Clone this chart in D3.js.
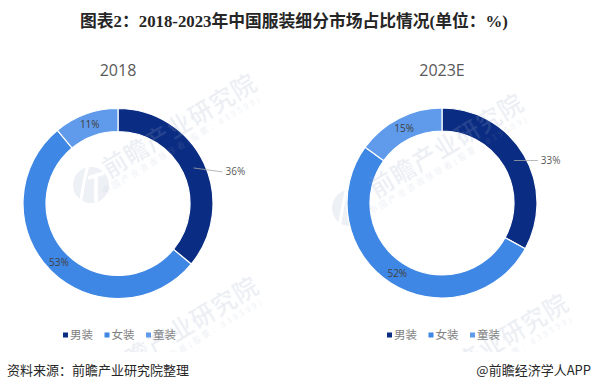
<!DOCTYPE html>
<html lang="en">
<head>
    <meta charset="UTF-8">
    <title>图表2</title>
    <script src="https://d3js.org/d3.v7.min.js"></script>
    <style>
        html, body { margin: 0; padding: 0; background: #fff; }
        svg { display: block; }
    </style>
</head>
<body>
<svg id="canvas" width="591" height="391" viewBox="0 0 591 391" font-family="'Noto Sans CJK SC', 'Noto Sans', sans-serif"></svg>
<script>
    // values
    const categories = ["男装", "女装", "童装"];
    const years = ["2018", "2023E"];
    const values2018 = [36, 53, 11];
    const values2023 = [33, 52, 15];
    const colors = ["#0a2c82", "#3f87e4", "#5f9bea"];

    const svg = d3.select("#canvas");
    const W = 591, H = 391;
    const colon = "\uFF1A";

    // title
    svg.append("text").attr("x", 80).attr("y", 27)
        .attr("font-family", "'Liberation Serif', 'Noto Sans CJK SC', serif")
        .attr("font-size", 16.8).attr("font-weight", 700).attr("fill", "#262626")
        .text("图表2" + colon + "2018-2023年中国服装细分市场占比情况(单位" + colon + "%)");

    // logo sits under the rings, the rest of the watermark goes over them
    const logoLayer = svg.append("g");
    const pie = d3.pie().sort(null).value(d => d);
    const arc = d3.arc().innerRadius(72).outerRadius(95);
    const chartLayer = svg.append("g");
    const labelLayer = svg.append("g");

    // leader = offset from the slice centre to the end of the line, only first slice has one
    function donut(values, year, cx, cy, legendX, leader) {
        labelLayer.append("text").attr("x", cx).attr("y", 76).attr("text-anchor", "middle")
            .attr("font-family", "Open Sans").attr("font-size", 16).attr("fill", "#595959").text(year);

        const g = chartLayer.append("g").attr("transform", `translate(${cx},${cy})`);
        const t = labelLayer.append("g").attr("transform", `translate(${cx},${cy})`);
        const arcs = pie(values);
        g.selectAll("path").data(arcs).enter().append("path")
            .attr("d", arc)
            .attr("fill", (d, i) => colors[i])
            .attr("stroke", "#fff").attr("stroke-width", 1.2);

        arcs.forEach((d, i) => {
            const [x, y] = arc.centroid(d);
            if (i === 0) {
                t.append("polyline")
                    .attr("points", `${x},${y} ${x + leader[0]},${y + leader[1]}`)
                    .attr("fill", "none").attr("stroke", "#a6a6a6").attr("stroke-width", 0.8);
                t.append("text").attr("x", x + leader[0] + 3).attr("y", y + leader[1] + 3.5)
                    .attr("font-family", "Open Sans").attr("font-size", 10).attr("fill", "#595959")
                    .text(d.value + "%");
            } else {
                t.append("text").attr("x", x).attr("y", y + 3.5).attr("text-anchor", "middle")
                    .attr("font-family", "Open Sans").attr("font-size", 10).attr("fill", "#404040")
                    .text(d.value + "%");
            }
        });

        // legend
        const lx = d3.scalePoint().domain(categories).range([legendX, legendX + 83]);
        categories.forEach((c, i) => {
            labelLayer.append("rect").attr("x", lx(c) - 2).attr("y", 332.5).attr("width", 5).attr("height", 5)
                .attr("fill", colors[i]);
            labelLayer.append("text").attr("x", lx(c) + 5).attr("y", 339)
                .attr("font-size", 11.5).attr("fill", "#7f7f7f").text(c);
        });
    }

    donut(values2018, years[0], 118, 203.5, 65, [29, 4]);
    donut(values2023, years[1], 442, 203, 389, [24, 0]);

    function logo(x, y) {
        const g = logoLayer.append("g").attr("transform", `translate(${x},${y})`);
        g.append("circle").attr("r", 18).attr("fill", "#edf0f5");
        g.append("path").attr("d", "M-3,-19 C-7,-8 -8,6 -11,19").attr("fill", "none")
            .attr("stroke", "#fff").attr("stroke-width", 3);
        g.append("path").attr("d", "M-3,-7 L13,-12 M5,-9 L5,17").attr("fill", "none")
            .attr("stroke", "#fff").attr("stroke-width", 3.5);
    }
    logo(91, 185);
    logo(350, 208);

    // faint watermarks, cut off above the footer
    svg.append("defs").append("clipPath").attr("id", "wmClip")
        .append("rect").attr("width", W).attr("height", 352);
    const wmTop = svg.append("g").attr("clip-path", "url(#wmClip)").attr("opacity", 0.2);
    function watermark(x, y, name, sub) {
        const g = wmTop.append("g").attr("transform", `translate(${x},${y}) rotate(-31)`);
        g.append("text").attr("x", 165).attr("y", 9).attr("text-anchor", "end")
            .attr("font-size", 24).attr("font-weight", 500)
            .attr("letter-spacing", 1).attr("fill", "#9aa9c4").text(name);
        g.append("text").attr("x", 162).attr("y", 21).attr("text-anchor", "end")
            .attr("font-size", 8).attr("letter-spacing", 2.8)
            .attr("fill", "#9aa9c4").text(sub);
    }
    const wmName = "前瞻产业研究院";
    const wmSub = "中国产业咨询领导者(股票" + colon + "839599)";
    watermark(113, 165, wmName, wmSub);
    watermark(380, 185, wmName, wmSub);
    // the two lower ones run off the page, only their visible end is written
    watermark(115, 368, wmName.slice(1), wmSub.slice(6));
    watermark(425, 385, wmName.slice(2), wmSub.slice(9));

    // footer
    svg.append("text").attr("x", 7).attr("y", 375).attr("font-size", 13).attr("fill", "#262626")
        .text("资料来源" + colon + "前瞻产业研究院整理");
    svg.append("text").attr("x", 591).attr("y", 375).attr("text-anchor", "end")
        .attr("font-size", 13).attr("fill", "#262626").text("@前瞻经济学人APP");
</script>
</body>
</html>
